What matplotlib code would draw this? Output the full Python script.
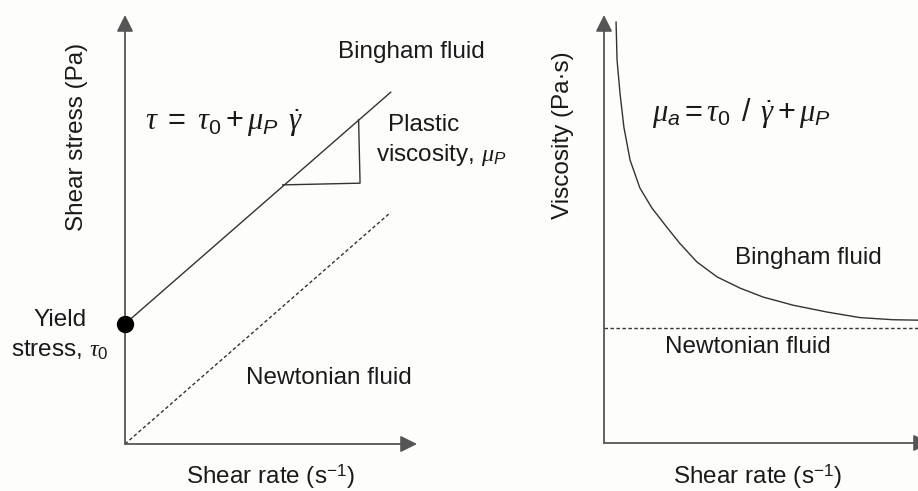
import numpy as np
import matplotlib
matplotlib.use("Agg")
import matplotlib.pyplot as plt

plt.rcParams["font.family"] = ["Liberation Sans", "DejaVu Sans"]
plt.rcParams["mathtext.fontset"] = "custom"
plt.rcParams["mathtext.rm"] = "Liberation Sans"
plt.rcParams["mathtext.it"] = "Liberation Serif:italic"
plt.rcParams["mathtext.sf"] = "Liberation Sans:italic"

# left panel: flow curves (schematic units, axis tips at 10)
shear_rate = [0.0, 9.1]
bingham_stress = [2.8, 8.2]
newtonian_stress = [0.0, 5.4]
slope_tri_x = [5.4, 8.05, 8.0]
slope_tri_y = [6.04, 6.08, 7.56]

# right panel: apparent viscosity
visc_rate = [0.37, 0.40, 0.49, 0.61, 0.80, 1.10, 1.47, 1.94, 2.33, 2.85,
             3.47, 4.17, 4.88, 5.80, 6.84, 7.85, 8.87, 9.63, 10.0]
visc_bingham = [9.84, 8.95, 8.18, 7.38, 6.61, 5.96, 5.49, 5.03, 4.66, 4.23,
                3.88, 3.62, 3.41, 3.22, 3.06, 2.93, 2.88, 2.87, 2.87]
visc_newtonian = 2.69

W, H = 918, 491
fig = plt.figure(figsize=(W / 100, H / 100), dpi=100)
fig.patch.set_facecolor("#fdfdfc")

axcol = "#555555"
linecol = "#333333"
txtcol = "#1a1a1a"
fs = 17.5
efs = 22


def make_axes(x0, x1, y0, y1):
    ax = fig.add_axes([x0 / W, (H - y0) / H, (x1 - x0) / W, (y0 - y1) / H])
    ax.set_xlim(0, 10)
    ax.set_ylim(0, 10)
    ax.set_xticks([])
    ax.set_yticks([])
    for s in ax.spines.values():
        s.set_visible(False)
    ax.patch.set_alpha(0)
    arrow = dict(arrowstyle="-|>,head_length=1.0,head_width=0.5", mutation_scale=10,
                 color=axcol, lw=1.3, shrinkA=0, shrinkB=0)
    ax.annotate("", xy=(1, 0), xytext=(0, 0), xycoords="axes fraction", arrowprops=arrow)
    ax.annotate("", xy=(0, 1), xytext=(0, 0), xycoords="axes fraction", arrowprops=arrow)
    return ax


# ---- left: shear stress vs shear rate
ax1 = make_axes(125, 417, 444, 15)
ax1.plot(shear_rate, bingham_stress, color=linecol, lw=1.0)
ax1.plot(shear_rate, newtonian_stress, color=linecol, lw=1.0, ls=(0, (2.5, 1.8)))
ax1.plot(slope_tri_x, slope_tri_y, color=linecol, lw=1.0)
ax1.plot([0], [bingham_stress[0]], "o", color="black", ms=11.5, clip_on=False, zorder=5)

ax1.set_xlabel("Shear rate (s$^{\\mathrm{-1}}$)", fontsize=fs, color=txtcol)
ax1.xaxis.set_label_coords(0.497, -0.077)
ax1.xaxis.label.set_va("center")
ax1.set_ylabel("Shear stress (Pa)", fontsize=fs, color=txtcol)
ax1.yaxis.set_label_coords(-0.164, 0.716)
ax1.yaxis.label.set_va("center")

ax1.text(7.29, 9.14, "Bingham fluid", fontsize=fs, color=txtcol, va="center")
ax1.text(0.68, 7.48, r"$\tau\ =\ \tau_0 + \mu_{\mathsf{P}}\ \,\dot{\gamma}$", fontsize=efs,
         color=txtcol, va="center")
ax1.text(9.01, 7.44, "Plastic", fontsize=fs, color=txtcol, va="center")
ax1.text(8.60, 6.74, r"viscosity, $\mu_{\mathsf{P}}$", fontsize=fs, color=txtcol, va="center")
ax1.text(4.14, 1.54, "Newtonian fluid", fontsize=fs, color=txtcol, va="center")
ax1.text(-2.23, 2.89, "Yield", fontsize=fs, color=txtcol, ha="center", va="center")
ax1.text(-2.23, 2.19, r"stress, $\tau_0$", fontsize=fs, color=txtcol, ha="center", va="center")

# ---- right: viscosity vs shear rate
ax2 = make_axes(604, 930, 443, 15)
ax2.plot(visc_rate, visc_bingham, color=linecol, lw=1.0, solid_capstyle="round",
         solid_joinstyle="round")
ax2.plot([0, 10], [visc_newtonian, visc_newtonian], color=linecol, lw=1.0, ls=(0, (2.5, 1.8)))

ax2.set_xlabel("Shear rate (s$^{\\mathrm{-1}}$)", fontsize=fs, color=txtcol)
ax2.xaxis.set_label_coords(0.472, -0.079)
ax2.xaxis.label.set_va("center")
ax2.set_ylabel("Viscosity (Pa\u00b7s)", fontsize=fs, color=txtcol)
ax2.yaxis.set_label_coords(-0.126, 0.72)
ax2.yaxis.label.set_va("center")

ax2.text(1.47, 7.71, r"$\mu_{\mathsf{a}} = \tau_0\ \,/\ \,\dot{\gamma} + \mu_{\mathsf{P}}$",
         fontsize=efs, color=txtcol, va="center")
ax2.text(4.02, 4.32, "Bingham fluid", fontsize=fs, color=txtcol, va="center")
ax2.text(1.87, 2.24, "Newtonian fluid", fontsize=fs, color=txtcol, va="center")

fig.savefig("out.png", dpi=100, facecolor=fig.get_facecolor())
